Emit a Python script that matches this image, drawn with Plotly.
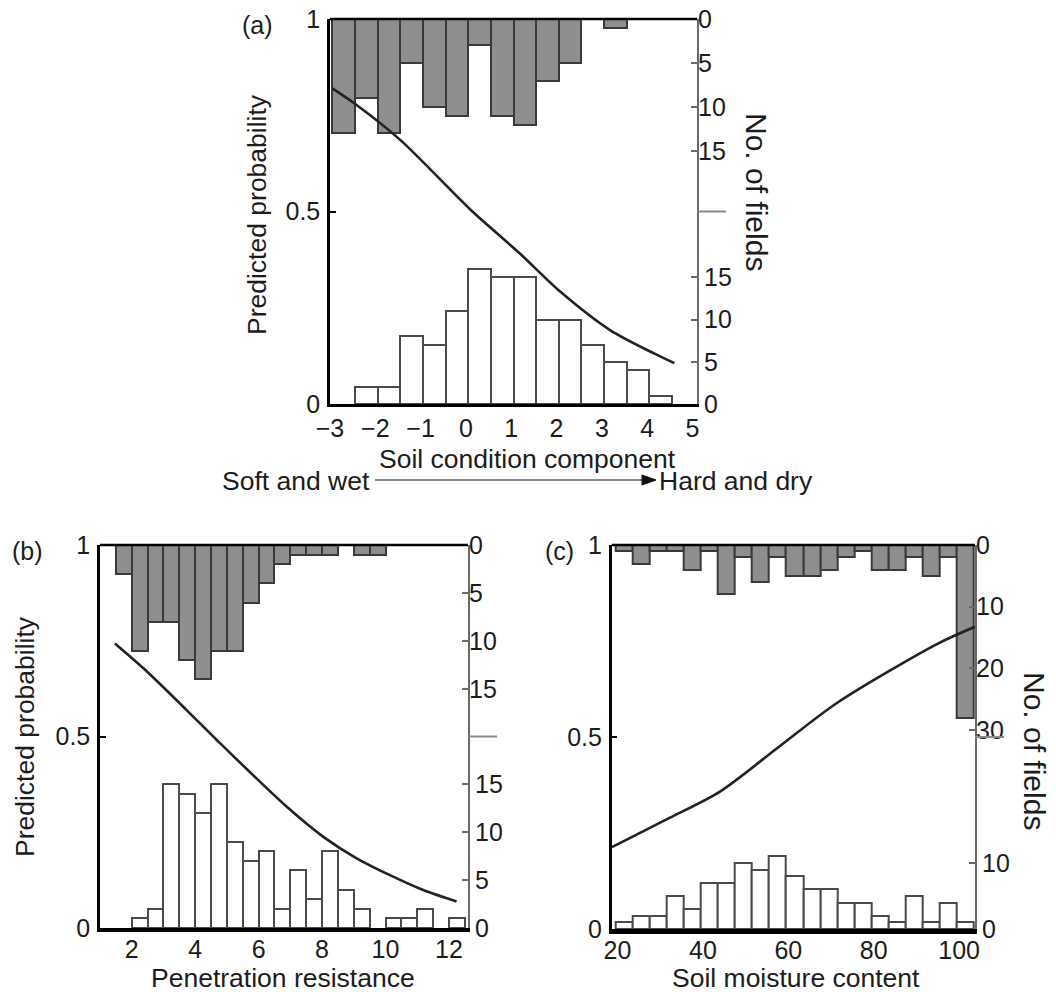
import plotly.graph_objects as go

# ---------------- data ----------------
# Panel (a): soil condition component, histogram bins of width 0.5
a_bin_centers = [-2.7, -2.2, -1.7, -1.2, -0.7, -0.2, 0.3, 0.8, 1.3, 1.8, 2.3, 2.8, 3.3, 3.8, 4.3]
a_top_counts = [13, 9, 13, 5, 10, 11, 3, 11, 12, 7, 5, 0, 1, 0, 0]
a_bottom_counts = [0, 2, 2, 8, 7, 11, 16, 15, 15, 10, 10, 7, 5, 4, 1]
a_curve_x = [-2.95, -2.45, -1.45, 0.09, 1.19, 2.08, 3.18, 4.14, 4.6]
a_curve_p = [0.82, 0.78, 0.686, 0.506, 0.391, 0.292, 0.192, 0.132, 0.106]
a_xticks = [-3, -2, -1, 0, 1, 2, 3, 4, 5]
a_xticktext = ["\u22123", "\u22122", "\u22121", "0", "1", "2", "3", "4", "5"]

# Panel (b): penetration resistance, bins of width 0.5
b_bin_centers = [1.75, 2.25, 2.75, 3.25, 3.75, 4.25, 4.75, 5.25, 5.75, 6.25, 6.75,
                 7.25, 7.75, 8.25, 8.75, 9.25, 9.75, 10.25, 10.75, 11.25, 11.75, 12.25]
b_top_counts = [3, 11, 8, 8, 12, 14, 11, 11, 6, 4, 2, 1, 1, 1, 0, 1, 1, 0, 0, 0, 0, 0]
b_bottom_counts = [0, 1, 2, 15, 14, 12, 15, 9, 7, 8, 2, 6, 3, 8, 4, 2, 0, 1, 1, 2, 0, 1]
b_curve_x = [1.47, 2.37, 3.73, 4.68, 6.88, 8.04, 9.09, 10.14, 11.19, 12.24]
b_curve_p = [0.743, 0.678, 0.569, 0.491, 0.317, 0.238, 0.182, 0.138, 0.099, 0.069]
b_xticks = [2, 4, 6, 8, 10, 12]

# Panel (c): soil moisture content, bins of width 4
c_bin_centers = [21.5, 25.5, 29.5, 33.5, 37.5, 41.5, 45.5, 49.5, 53.5, 57.5, 61.5,
                 65.5, 69.5, 73.5, 77.5, 81.5, 85.5, 89.5, 93.5, 97.5, 101.5]
c_top_counts = [1, 3, 1, 1, 4, 1, 8, 2, 6, 2, 5, 5, 4, 2, 1, 4, 4, 2, 5, 2, 28]
c_bottom_counts = [1, 2, 2, 5, 3, 7, 7, 10, 9, 11, 8, 6, 6, 4, 4, 2, 1, 5, 1, 4, 1]
c_curve_x = [18.7, 32.3, 44.0, 57.3, 71.3, 94.8, 103.7]
c_curve_p = [0.213, 0.29, 0.358, 0.47, 0.588, 0.742, 0.787]
c_xticks = [20, 40, 60, 80, 100]

prob_ticks = [0, 0.5, 1]
prob_ticktext = ["0", "0.5", "1"]

# ---------------- styling / layout ----------------
W, H = 1056, 992
FONT = "Liberation Sans, Arial, Helvetica, sans-serif"
TXT = "#1c1c1c"
TICKFONT = dict(family=FONT, size=25, color=TXT)
TITLEFONT = dict(family=FONT, size=26.5, color=TXT)


def fx(p):
    return p / W


def fy(p):
    return 1 - p / H


panels = [
    dict(xdom=(330, 697), ydom=(19, 404), xrange=[-3, 5.1], xticks=a_xticks, xtext=a_xticktext,
         centers=a_bin_centers, width=0.5, top=a_top_counts, bottom=a_bottom_counts,
         top_max=43.75, bot_max=45.56, top_ticks=[0, 5, 10, 15], bot_ticks=[0, 5, 10, 15],
         cx=a_curve_x, cp=a_curve_p, xlw=2.5, standoff=0),
    dict(xdom=(100, 468), ydom=(545, 928), xrange=[1, 12.6], xticks=b_xticks,
         xtext=[str(v) for v in b_xticks],
         centers=b_bin_centers, width=0.5, top=b_top_counts, bottom=b_bottom_counts,
         top_max=39.9, bot_max=39.9, top_ticks=[0, 5, 10, 15], bot_ticks=[0, 5, 10, 15],
         cx=b_curve_x, cp=b_curve_p, xlw=4, standoff=-4),
    dict(xdom=(611.7, 975), ydom=(545, 929), xrange=[18.64, 103.72], xticks=c_xticks,
         xtext=[str(v) for v in c_xticks],
         centers=c_bin_centers, width=4, top=c_top_counts, bottom=c_bottom_counts,
         top_max=62.2, bot_max=58.2, top_ticks=[0, 10, 20, 30], bot_ticks=[0, 10],
         cx=c_curve_x, cp=c_curve_p, xlw=4.5, standoff=-5),
]

fig = go.Figure()
layout_axes = {}
shapes = []

for i, P in enumerate(panels):
    xn = i + 1
    xname = "x" if xn == 1 else f"x{xn}"
    xkey = "xaxis" if xn == 1 else f"xaxis{xn}"
    yb, yt, yp = 3 * i + 1, 3 * i + 2, 3 * i + 3
    ybn = "y" if yb == 1 else f"y{yb}"
    ybkey = "yaxis" if yb == 1 else f"yaxis{yb}"
    ytn, ytkey = f"y{yt}", f"yaxis{yt}"
    ypn, ypkey = f"y{yp}", f"yaxis{yp}"

    xdom = [fx(P["xdom"][0]), fx(P["xdom"][1])]
    ydom = [fy(P["ydom"][1]), fy(P["ydom"][0])]

    layout_axes[xkey] = dict(domain=xdom, range=P["xrange"], anchor=ybn, showline=True,
                             linecolor="black", linewidth=P["xlw"], ticks="",
                             tickvals=P["xticks"], ticktext=P["xtext"], tickfont=TICKFONT,
                             showgrid=False, zeroline=False, ticklabelstandoff=P["standoff"],
                             automargin=False)
    layout_axes[ybkey] = dict(domain=ydom, range=[0, P["bot_max"]], anchor=xname, side="right",
                              showline=True, linecolor="#6a6a6a", linewidth=2,
                              ticks="inside", ticklen=6, tickwidth=2, tickcolor="#6a6a6a",
                              tickvals=P["bot_ticks"], tickfont=TICKFONT,
                              showgrid=False, zeroline=False, automargin=False)
    layout_axes[ytkey] = dict(overlaying=ybn, range=[P["top_max"], 0], anchor=xname, side="right",
                              showline=False, ticks="inside", ticklen=6, tickwidth=2,
                              tickcolor="#6a6a6a", tickvals=P["top_ticks"], tickfont=TICKFONT,
                              showgrid=False, zeroline=False, automargin=False)
    layout_axes[ypkey] = dict(overlaying=ybn, range=[0, 1], anchor=xname, side="left",
                              showline=True, linecolor="black", linewidth=2.5,
                              ticks="inside", ticklen=6, tickwidth=2, tickcolor="black",
                              tickvals=prob_ticks, ticktext=prob_ticktext, tickfont=TICKFONT,
                              showgrid=False, zeroline=False, automargin=False,
                              ticklabelstandoff=2)

    # bottom histogram (white bars)
    bx = [c for c, n in zip(P["centers"], P["bottom"]) if n > 0]
    by = [n for n in P["bottom"] if n > 0]
    fig.add_trace(go.Bar(x=bx, y=by, width=P["width"], xaxis=xname, yaxis=ybn,
                         marker=dict(color="white", line=dict(color="#4a4a4a", width=2)),
                         showlegend=False, hoverinfo="skip"))
    # top histogram (grey bars hanging from the top)
    tx = [c for c, n in zip(P["centers"], P["top"]) if n > 0]
    ty = [n for n in P["top"] if n > 0]
    fig.add_trace(go.Bar(x=tx, y=ty, width=P["width"], xaxis=xname, yaxis=ytn,
                         marker=dict(color="#8e8e8e", line=dict(color="#3a3a3a", width=2)),
                         showlegend=False, hoverinfo="skip"))
    # predicted probability curve
    fig.add_trace(go.Scatter(x=P["cx"], y=P["cp"], mode="lines", xaxis=xname, yaxis=ypn,
                             line=dict(color="#222222", width=2.6, shape="spline", smoothing=0.8),
                             showlegend=False, hoverinfo="skip"))

    # top frame line
    shapes.append(dict(type="line", xref=f"{xname} domain", yref=f"{ybn} domain",
                       x0=0, x1=1, y0=1, y1=1, line=dict(color="black", width=2.5)))
    # mid marker on the right axis (separates the two count scales)
    shapes.append(dict(type="line", xref="paper", yref=ypn,
                       x0=fx(P["xdom"][1]), x1=fx(P["xdom"][1] + 29), y0=0.5, y1=0.5,
                       line=dict(color="#8a8a8a", width=2)))

# arrow under panel (a)
shapes.append(dict(type="line", xref="paper", yref="paper", x0=fx(375), x1=fx(646),
                   y0=fy(480), y1=fy(480), line=dict(color="#8a8a8a", width=1.8)))
shapes.append(dict(type="path", xref="paper", yref="paper",
                   path=f"M {fx(642)} {fy(475)} L {fx(656)} {fy(480)} L {fx(642)} {fy(485)} Z",
                   fillcolor="#111111", line=dict(color="#111111", width=1)))


def ann(text, x, y, angle=0, size=None, xanchor="center"):
    f = dict(TITLEFONT)
    if size:
        f["size"] = size
    return dict(text=text, x=fx(x), y=fy(y), xref="paper", yref="paper", showarrow=False,
                textangle=angle, font=f, xanchor=xanchor, yanchor="middle", borderpad=0)


annotations = [
    ann("(a)", 257, 25, size=25),
    ann("(b)", 27, 551, size=25),
    ann("(c)", 559, 551, size=25),
    ann("Predicted probability", 257, 215, angle=-90),
    ann("Predicted probability", 25, 737, angle=-90),
    ann("No. of fields", 757, 192, angle=90, size=30),
    ann("No. of fields", 1035, 751, angle=90, size=30),
    ann("Soil condition component", 527, 459),
    ann("Penetration resistance", 283, 978),
    ann("Soil moisture content", 796, 978),
    ann("Soft and wet", 296, 481),
    ann("Hard and dry", 658, 481, xanchor="left"),
]

fig.update_layout(
    template="none",
    width=W, height=H, margin=dict(l=0, r=0, t=0, b=0, autoexpand=False),
    paper_bgcolor="white", plot_bgcolor="rgba(0,0,0,0)",
    barmode="overlay", bargap=0, showlegend=False,
    font=dict(family=FONT, color=TXT),
    shapes=shapes, annotations=annotations,
    **layout_axes,
)

fig.write_html("out.html")
